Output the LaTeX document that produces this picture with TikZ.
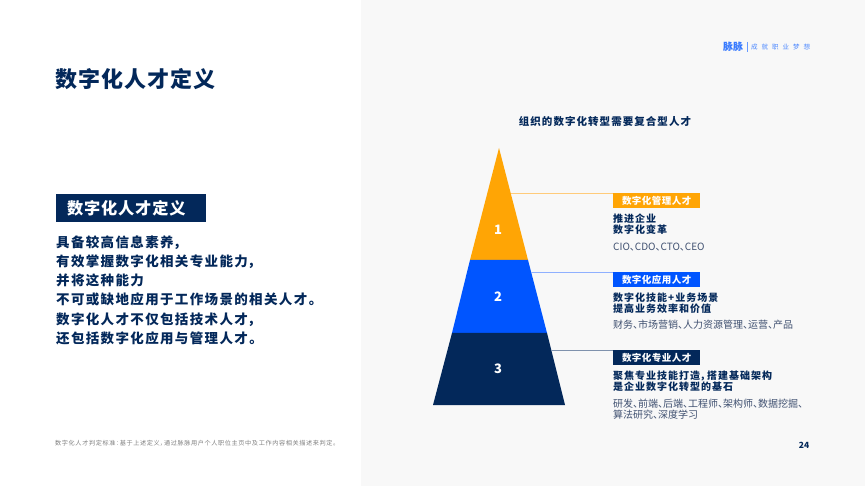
\documentclass[tikz,border=0pt]{standalone}
\usepackage{fontspec}
\usepackage{xcolor}
\setmainfont{Noto Sans}
\newfontfamily\cjk[RawFeature={+palt}]{Noto Sans CJK SC}
\newfontfamily\cjkmid[LetterSpace=5,RawFeature={+palt}]{Noto Sans CJK SC}
\newfontfamily\cjkwide[LetterSpace=10,RawFeature={+palt}]{Noto Sans CJK SC}
\usetikzlibrary{positioning}
\definecolor{navy}{HTML}{03285A}
\definecolor{royal}{HTML}{0055FF}
\definecolor{amber}{HTML}{FFA505}
\definecolor{paper}{HTML}{F8F8F8}
\definecolor{inkgrey}{HTML}{3F5070}
\definecolor{amberline}{HTML}{FFCB7A}
\definecolor{royalline}{HTML}{8FB0FF}
\definecolor{navyline}{HTML}{7F92AD}
\tikzset{
    tagbox/.style={minimum width=87pt, minimum height=14.5pt, inner sep=0pt, text=white,
        font=\cjkmid\bfseries\fontsize{9.5}{11}\selectfont},
    lead/.style={align=left, inner sep=0pt, text=navy,
        font=\cjkwide\bfseries\fontsize{10}{11}\selectfont},
    detail/.style={align=left, inner sep=0pt, text=inkgrey,
        font=\cjk\fontsize{10}{11}\selectfont},
    tier/.style={text=white, font=\cjk\bfseries\fontsize{13}{15}\selectfont},
    leader/.style={line width=0.8pt}
}
\begin{document}
\begin{tikzpicture}[x=1pt, y=-1pt]
    \useasboundingbox (0,0) rectangle (865,486);
    \fill[white] (0,0) rectangle (361,486);
    \fill[paper] (361,0) rectangle (865,486);

    % left column
    \node (title) [anchor=west, inner sep=0pt, text=navy, font=\cjkmid\bfseries\fontsize{22}{26}\selectfont] at (55,79) {数字化人才定义};
    \node (defbox) [anchor=north west, text width=128pt, minimum height=28pt, inner xsep=11pt, inner ysep=0pt, fill=navy, text=white, font=\cjkmid\bfseries\fontsize{16.2}{19}\selectfont] at (56,194) {数字化人才定义};
    \node (defbody) [below right=13pt and 0pt of defbox.south west, align=left, inner sep=0pt, text=navy, font=\cjkwide\bfseries\fontsize{13.5}{19.2}\selectfont]
    {
        具备较高信息素养，\\
        有效掌握数字化相关专业能力，\\
        并将这种能力\\
        不可或缺地应用于工作场景的相关人才。\\
        数字化人才不仅包括技术人才，\\
        还包括数字化应用与管理人才。
    };
    \node (note) [anchor=west, inner sep=0pt, text=gray, font=\cjkwide\fontsize{6.15}{7}\selectfont] at (55,443) {数字化人才判定标准：基于上述定义，通过脉脉用户个人职位主页中及工作内容相关描述来判定。};

    % logo and page number
    \node (logo) [anchor=west, inner sep=0pt, text=royal!80!white, font=\cjk\fontsize{10}{12}\selectfont\bfseries] at (723,47) {脉脉};
    \node (slogan) [anchor=west, inner sep=0pt, text=royal!70!white, font=\cjk\fontsize{6.5}{7}\selectfont, text width=59pt, align=justify] at (751,47) {成\hfill 就\hfill 职\hfill 业\hfill 梦\hfill 想};
    \draw[royal!60!white, line width=0.5pt] (747,42) -- (747,52);
    \node (page) [text=navy, font=\cjk\bfseries\fontsize{8.5}{10}\selectfont, inner sep=0pt] at (804,445) {24};

    % pyramid
    \node (heading) [text=navy, inner sep=0pt, font=\cjkwide\bfseries\fontsize{10.5}{12}\selectfont] at (605,122) {组织的数字化转型需要复合型人才};
    \coordinate (apex) at (499,148);
    \fill[amber] (apex) -- (528,260) -- (470,260) -- cycle;
    \fill[royal] (470,260) -- (528,260) -- (547,333) -- (452,333) -- cycle;
    \fill[navy] (452,333) -- (547,333) -- (565,405) -- (433,405) -- cycle;
    \node (n1) [tier] at (498,230) {1};
    \node (n2) [tier] at (498,297) {2};
    \node (n3) [tier] at (498,369) {3};

    % tags
    \node (tag1) [tagbox, anchor=north west, fill=amber] at (613,193) {数字化管理人才};
    \node (tag2) [tagbox, anchor=north west, fill=royal] at (613,272) {数字化应用人才};
    \node (tag3) [tagbox, anchor=north west, fill=navy] at (613,350) {数字化专业人才};
    \coordinate (edge1) at (511,193);
    \coordinate (edge2) at (531,272);
    \coordinate (edge3) at (551,350);
    \draw[leader, amberline] (edge1) -- (tag1.north west);
    \draw[leader, royalline] (edge2) -- (tag2.north west);
    \draw[leader, navyline] (edge3) -- (tag3.north west);

    % text under each tag
    \node (lead1) [lead, below right=5.5pt and 0pt of tag1.south west] {推进企业\\数字化变革};
    \node (info1) [detail, below right=8pt and 0pt of lead1.south west] {CIO、CDO、CTO、CEO};
    \node (lead2) [lead, below right=5.5pt and 0pt of tag2.south west] {数字化技能+业务场景\\提高业务效率和价值};
    \node (info2) [detail, below right=6pt and 0pt of lead2.south west] {财务、市场营销、人力资源管理、运营、产品};
    \node (lead3) [lead, below right=5.5pt and 0pt of tag3.south west] {聚焦专业技能打造，搭建基础架构\\是企业数字化转型的基石};
    \node (info3) [detail, below right=7pt and 0pt of lead3.south west] {研发、前端、后端、工程师、架构师、数据挖掘、\\算法研究、深度学习};
\end{tikzpicture}
\end{document}
